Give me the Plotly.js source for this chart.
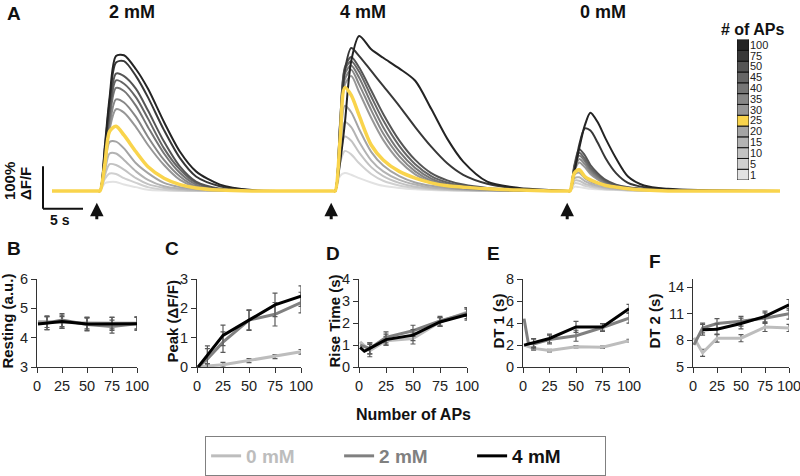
<!DOCTYPE html>
<html>
<head>
<meta charset="utf-8">
<script src="https://cdn.plot.ly/plotly-3.0.1.min.js"></script>
<style>
  html, body { margin: 0; padding: 0; background: #fff; }
  #chart { width: 800px; height: 476px; }
</style>
</head>
<body>
<div id="chart"></div>
<script>
// ---------- panel A: example fluorescence traces (dF/F vs time, s) ----------
const apCounts = [1, 5, 10, 15, 20, 25, 30, 35, 40, 45, 50, 75, 100];
const apColors = ['#e2e2e2', '#d0d0d0', '#c2c2c2', '#b3b3b3', '#a4a4a4', '#f9d44c', '#979797',
                  '#878787', '#767676', '#666666', '#555555', '#383838', '#242424'];

// 2 mM bath, stimulus ~6 s
const t2mM = [0, 5.7, 6, 6.6, 7.2, 8, 9, 10.5, 12, 14, 16, 18, 21, 25, 29];
const f2mM = [
  [0, 0, 0, 0.18, 0.21, 0.21, 0.15, 0.09, 0.03, 0.01, 0, 0, 0, 0, 0],
  [0, 0, 0, 0.28, 0.41, 0.40, 0.30, 0.19, 0.09, 0.03, 0.01, 0, 0, 0, 0],
  [0, 0, 0, 0.36, 0.63, 0.61, 0.50, 0.30, 0.16, 0.07, 0.02, 0.01, 0, 0, 0],
  [0, 0, 0, 0.45, 0.88, 0.88, 0.73, 0.46, 0.26, 0.11, 0.05, 0.02, 0, 0, 0],
  [0, 0, 0, 0.55, 1.15, 1.16, 1.00, 0.65, 0.42, 0.19, 0.09, 0.04, 0, 0, 0],
  [0, 0, 0, 0.62, 1.40, 1.52, 1.31, 0.92, 0.57, 0.30, 0.15, 0.07, 0.02, 0, 0],
  [0, 0, 0, 0.65, 1.45, 1.92, 1.84, 1.50, 1.08, 0.61, 0.26, 0.09, 0.02, 0, 0],
  [0, 0, 0, 0.70, 1.55, 2.15, 2.08, 1.74, 1.27, 0.73, 0.34, 0.11, 0.02, 0, 0],
  [0, 0, 0, 0.75, 1.70, 2.42, 2.35, 2.00, 1.50, 0.88, 0.42, 0.15, 0.03, 0, 0],
  [0, 0, 0, 0.80, 1.80, 2.60, 2.52, 2.20, 1.70, 1.00, 0.50, 0.19, 0.04, 0, 0],
  [0, 0, 0, 0.85, 1.90, 2.76, 2.70, 2.40, 1.89, 1.16, 0.57, 0.22, 0.05, 0, 0],
  [0, 0, 0, 0.98, 2.10, 3.02, 3.05, 2.70, 2.20, 1.43, 0.77, 0.34, 0.11, 0.01, 0],
  [0, 0, 0, 1.05, 2.20, 3.17, 3.19, 2.86, 2.40, 1.62, 0.92, 0.46, 0.15, 0.02, 0]
];

// 4 mM bath, stimulus ~35.4 s
const t4mM = [35.1, 35.4, 36.0, 36.6, 37.4, 38.4, 39.9, 41.4, 43.4, 45.4, 47.4, 49.4, 51.4, 54.4, 58.4, 62.4];
const f4mM = [
  [0, 0, 0.35, 0.42, 0.38, 0.30, 0.20, 0.12, 0.07, 0.04, 0.02, 0.01, 0, 0, 0, 0],
  [0, 0, 0.65, 0.94, 0.86, 0.65, 0.40, 0.24, 0.13, 0.07, 0.04, 0.02, 0.01, 0, 0, 0],
  [0, 0, 0.80, 1.28, 1.18, 0.90, 0.56, 0.35, 0.19, 0.10, 0.06, 0.03, 0.02, 0, 0, 0],
  [0, 0, 0.90, 1.62, 1.50, 1.15, 0.72, 0.46, 0.26, 0.15, 0.08, 0.05, 0.03, 0.01, 0, 0],
  [0, 0, 1.00, 2.00, 1.85, 1.45, 0.92, 0.60, 0.35, 0.20, 0.12, 0.07, 0.04, 0.02, 0, 0],
  [0, 0, 1.17, 2.43, 2.25, 1.77, 1.08, 0.73, 0.46, 0.30, 0.19, 0.12, 0.09, 0.05, 0.02, 0],
  [0, 0, 1.40, 2.50, 2.70, 2.32, 1.72, 1.20, 0.71, 0.39, 0.20, 0.10, 0.05, 0.02, 0, 0],
  [0, 0, 1.45, 2.62, 2.85, 2.50, 1.90, 1.35, 0.82, 0.46, 0.24, 0.13, 0.07, 0.03, 0, 0],
  [0, 0, 1.50, 2.75, 2.95, 2.66, 2.06, 1.50, 0.93, 0.54, 0.29, 0.16, 0.09, 0.04, 0.01, 0],
  [0, 0, 1.55, 2.85, 3.05, 2.80, 2.22, 1.66, 1.06, 0.63, 0.35, 0.20, 0.12, 0.05, 0.01, 0],
  [0, 0, 1.58, 2.90, 3.15, 2.90, 2.36, 1.81, 1.19, 0.73, 0.42, 0.25, 0.15, 0.07, 0.02, 0],
  [0, 0, 1.35, 2.82, 3.36, 3.17, 2.82, 2.47, 2.00, 1.50, 1.04, 0.65, 0.38, 0.17, 0.05, 0],
  [0, 0, 0.65, 1.58, 3.05, 3.64, 3.33, 3.13, 2.88, 2.59, 1.93, 1.23, 0.69, 0.22, 0.07, 0.02]
];

// 0 mM bath, stimulus ~64.75 s
const t0mM = [64.45, 64.75, 65.3, 65.9, 66.6, 67.3, 68.2, 69.2, 70.5, 72, 74, 77, 81, 91];
const f0mM = [
  [0, 0, 0.10, 0.09, 0.07, 0.05, 0.04, 0.03, 0.02, 0.01, 0, 0, 0, 0],
  [0, 0, 0.18, 0.17, 0.12, 0.09, 0.06, 0.04, 0.03, 0.01, 0, 0, 0, 0],
  [0, 0, 0.24, 0.24, 0.17, 0.13, 0.09, 0.06, 0.04, 0.02, 0.01, 0, 0, 0],
  [0, 0, 0.30, 0.32, 0.23, 0.17, 0.12, 0.08, 0.05, 0.03, 0.01, 0, 0, 0],
  [0, 0, 0.38, 0.43, 0.30, 0.22, 0.16, 0.11, 0.07, 0.04, 0.02, 0, 0, 0],
  [0, 0, 0.42, 0.50, 0.34, 0.26, 0.19, 0.13, 0.09, 0.05, 0.02, 0, 0, 0],
  [0, 0, 0.47, 0.67, 0.56, 0.40, 0.27, 0.16, 0.09, 0.05, 0.03, 0.01, 0, 0],
  [0, 0, 0.50, 0.75, 0.63, 0.45, 0.30, 0.18, 0.10, 0.06, 0.03, 0.01, 0, 0],
  [0, 0, 0.54, 0.83, 0.70, 0.50, 0.34, 0.21, 0.12, 0.07, 0.04, 0.01, 0, 0],
  [0, 0, 0.57, 0.90, 0.76, 0.55, 0.38, 0.23, 0.13, 0.08, 0.04, 0.02, 0, 0],
  [0, 0, 0.61, 0.98, 0.84, 0.61, 0.42, 0.26, 0.15, 0.09, 0.05, 0.02, 0, 0],
  [0, 0, 0.46, 1.08, 1.47, 1.42, 1.14, 0.77, 0.42, 0.19, 0.09, 0.04, 0.01, 0],
  [0, 0, 0.46, 1.00, 1.54, 1.84, 1.62, 1.23, 0.77, 0.34, 0.13, 0.05, 0.02, 0]
];

const stimTimes = [5.6, 34.9, 64.4];

// ---------- panels B-F: summary vs number of APs ----------
const conditions = ['0 mM', '2 mM', '4 mM'];
const condColors = ['#bdbdbd', '#808080', '#000000'];
const apX = [1, 10, 25, 50, 75, 100];
const apX5 = [1, 5, 10, 25, 50, 75, 100];

const rest0 = [4.55, 4.55, 4.52, 4.50, 4.50, 4.50], rest0Err = [NaN, 0.2, 0.2, 0.2, 0.2, 0.2];
const rest2 = [4.50, 4.50, 4.60, 4.45, 4.38, 4.48], rest2Err = [NaN, 0.22, 0.22, 0.22, 0.22, 0.22];
const rest4 = [4.47, 4.50, 4.55, 4.47, 4.47, 4.48], rest4Err = [NaN, 0.22, 0.22, 0.22, 0.22, 0.22];

const peak0 = [0, 0.04, 0.08, 0.22, 0.36, 0.52], peak0Err = [NaN, 0.06, 0.08, 0.07, 0.07, 0.08];
const peak2 = [0, 0.28, 0.85, 1.60, 1.80, 2.20], peak2Err = [NaN, 0.35, 0.35, 0.35, 0.4, 0.35];
const peak4 = [0, 0.42, 1.08, 1.60, 2.12, 2.42], peak4Err = [NaN, 0.3, 0.35, 0.33, 0.4, 0.35];

const rise0 = [1.15, 0.75, 1.20, 1.30, 2.05, 2.50], rise0Err = [NaN, 0.28, 0.2, 0.25, 0.2, 0.2];
const rise2 = [1.00, 0.85, 1.35, 1.65, 2.10, 2.45], rise2Err = [NaN, 0.25, 0.25, 0.25, 0.2, 0.25];
const rise4 = [0.90, 0.72, 0.85, 1.25, 1.45, 2.05, 2.38], rise4Err = [NaN, NaN, 0.25, 0.25, 0.25, 0.2, 0.25];

const dt1_0 = [2.0, 1.7, 1.5, 1.85, 1.8, 2.4], dt1_0Err = [NaN, 0.15, 0.12, 0.1, 0.1, 0.12];
const dt1_2 = [4.4, 2.2, 2.1, 2.5, 2.85, 3.6, 4.45], dt1_2Err = [NaN, NaN, 0.45, 0.4, 0.5, 0.35, 0.45];
const dt1_4 = [2.0, 2.2, 2.6, 3.65, 3.65, 5.3], dt1_4Err = [NaN, 0.4, 0.4, 0.5, 0.3, 0.4];

const dt2_0 = [8.3, 6.6, 8.25, 8.25, 9.5, 9.4], dt2_0Err = [NaN, 0.4, 0.45, 0.4, 0.5, 0.4];
const dt2_2 = [7.5, 9.4, 9.9, 10.15, 10.5, 11.0], dt2_2Err = [NaN, 0.55, 0.55, 0.55, 0.6, 0.6];
const dt2_4X = [10, 25, 50, 75, 100];
const dt2_4 = [9.2, 9.25, 9.9, 10.7, 12.0], dt2_4Err = [0.6, 0.6, 0.6, 0.6, 0.6];

const px = v => v / 800;
const py = v => 1 - v / 476;
const FONT = 'Liberation Sans, Arial, Helvetica, sans-serif';

const traces = [];

// traces, yellow 25 AP drawn last (on top)
const order = apCounts.map((n, i) => i).filter(i => apCounts[i] !== 25);
order.push(apCounts.indexOf(25));
order.forEach(i => {
  traces.push({
    x: t2mM.concat(t4mM, t0mM),
    y: f2mM[i].concat(f4mM[i], f0mM[i]),
    type: 'scatter', mode: 'lines',
    line: { color: apColors[i], width: apCounts[i] === 25 ? 3.5 : 2, shape: 'spline', smoothing: 0.8 },
    xaxis: 'x', yaxis: 'y', hoverinfo: 'skip', showlegend: false
  });
});

// "# of APs" key
traces.push({
  type: 'bar', orientation: 'h',
  y: apCounts.map(String), x: apCounts.map(() => 1), width: 1,
  marker: { color: apColors, line: { color: '#111', width: 1 } },
  xaxis: 'x2', yaxis: 'y2', hoverinfo: 'skip', showlegend: false
});

function addSeries(x, y, err, c, ax, legend) {
  traces.push({
    x: x, y: y, type: 'scatter', mode: 'lines',
    name: '<span style="color:' + (c === 2 ? '#111' : condColors[c]) + '">' + conditions[c] + '</span>',
    line: { color: condColors[c], width: 3 },
    error_y: { type: 'data', array: err, color: '#5a5a5a', thickness: 1.2, width: 2.5 },
    xaxis: 'x' + ax, yaxis: 'y' + ax, cliponaxis: false, showlegend: legend, hoverinfo: 'skip'
  });
}

addSeries(apX, rest0, rest0Err, 0, 3, true);
addSeries(apX, rest2, rest2Err, 1, 3, true);
addSeries(apX, rest4, rest4Err, 2, 3, true);
addSeries(apX, peak0, peak0Err, 0, 4, false);
addSeries(apX, peak2, peak2Err, 1, 4, false);
addSeries(apX, peak4, peak4Err, 2, 4, false);
addSeries(apX, rise0, rise0Err, 0, 5, false);
addSeries(apX, rise2, rise2Err, 1, 5, false);
addSeries(apX5, rise4, rise4Err, 2, 5, false);
addSeries(apX, dt1_0, dt1_0Err, 0, 6, false);
addSeries(apX5, dt1_2, dt1_2Err, 1, 6, false);
addSeries(apX, dt1_4, dt1_4Err, 2, 6, false);
addSeries(apX, dt2_0, dt2_0Err, 0, 7, false);
addSeries(apX, dt2_2, dt2_2Err, 1, 7, false);
addSeries(dt2_4X, dt2_4, dt2_4Err, 2, 7, false);

const layout = {
  width: 800, height: 476,
  margin: { l: 0, r: 0, t: 0, b: 0 },
  paper_bgcolor: '#fff', plot_bgcolor: 'rgba(0,0,0,0)',
  font: { family: FONT, size: 14, color: '#111' },
  showlegend: true,
  xaxis: { domain: [px(40), px(790)], range: [-1.5, 92.25], visible: false, fixedrange: true },
  yaxis: { domain: [py(215), py(20)], range: [-0.512, 4.023], visible: false, fixedrange: true },
  xaxis2: { domain: [px(737), px(749)], range: [0, 1], visible: false, anchor: 'y2' },
  yaxis2: {
    domain: [py(182), py(40)], anchor: 'x2', side: 'right', type: 'category',
    tickmode: 'array', tickvals: apCounts.map(String), ticktext: apCounts.map(String),
    ticks: '', showline: false, showgrid: false, zeroline: false,
    tickfont: { size: 11, color: '#222' }
  },
  legend: {
    orientation: 'h', x: 0.507, xanchor: 'center', y: py(441), yanchor: 'top',
    bordercolor: '#808080', borderwidth: 1, font: { size: 19, weight: 'bold' },
    entrywidth: 88, itemwidth: 30
  },
  annotations: [],
  shapes: [
    // scale bar: 5 s, 100% dF/F
    { type: 'line', xref: 'x', yref: 'y', x0: -1.125, x1: -1.125, y0: -0.42, y1: 0.58, line: { color: '#111', width: 2 } },
    { type: 'line', xref: 'x', yref: 'y', x0: -1.125, x1: 3.875, y0: -0.42, y1: -0.42, line: { color: '#111', width: 2 } }
  ]
};

const lowerX = [[37, 137], [197, 301], [359, 467], [523, 629], [693, 789]];
const lowerRange = [[3, 6], [0, 3], [0, 4], [0, 8], [5, 14.9]];
const lowerTicks = [[3, 4, 5, 6], [0, 1, 2, 3], [0, 1, 2, 3, 4], [0, 2, 4, 6, 8], [5, 8, 11, 14]];
const lowerTitles = ['Resting (a.u.)', 'Peak (ΔF/F)', 'Rise Time (s)', 'DT 1 (s)', 'DT 2 (s)'];
const titleX = [8, 173, 335, 499, 655];
const letters = ['B', 'C', 'D', 'E', 'F'];
const letterPos = [[14, 251], [172, 251], [333, 256], [493, 256], [655, 264]];

const axStyle = {
  showline: true, linecolor: '#333', linewidth: 1, ticks: 'outside', ticklen: 5,
  tickcolor: '#333', tickwidth: 1, showgrid: false, zeroline: false, fixedrange: true,
  tickfont: { size: 14.5, color: '#222' }, ticklabeloverflow: 'allow'
};

lowerX.forEach((d, k) => {
  const n = k + 3;
  layout['xaxis' + n] = Object.assign({}, axStyle, {
    domain: [px(d[0]), px(d[1])], range: [0, 100], anchor: 'y' + n,
    tickmode: 'array', tickvals: [0, 25, 50, 75, 100]
  });
  layout['yaxis' + n] = Object.assign({}, axStyle, {
    domain: [py(371), py(282)], range: lowerRange[k], anchor: 'x' + n,
    tickmode: 'array', tickvals: lowerTicks[k]
  });
  layout.annotations.push({
    xref: 'paper', yref: 'paper', x: px(titleX[k]), y: py(325), text: '<b>' + lowerTitles[k] + '</b>',
    textangle: -90, showarrow: false, xanchor: 'center', yanchor: 'middle', font: { size: 15, color: '#111' }
  });
  layout.annotations.push({
    xref: 'paper', yref: 'paper', x: px(letterPos[k][0]), y: py(letterPos[k][1]), text: '<b>' + letters[k] + '</b>',
    showarrow: false, xanchor: 'center', yanchor: 'middle', font: { size: 19, color: '#111' }
  });
});

function label(x, y, text, size, extra) {
  layout.annotations.push(Object.assign({
    xref: 'paper', yref: 'paper', x: px(x), y: py(y), text: text, showarrow: false,
    xanchor: 'center', yanchor: 'middle', font: { size: size, color: '#111' }
  }, extra || {}));
}

label(14, 14, '<b>A</b>', 19);
label(132, 12, '<b>2 mM</b>', 18);
label(363, 12, '<b>4 mM</b>', 18);
label(603, 12, '<b>0 mM</b>', 18);
label(753, 30, '<b># of APs</b>', 16);
label(9, 183, '<b>100%</b>', 15, { textangle: -90 });
label(25, 186, '<b>ΔF/F</b>', 15, { textangle: -90 });
label(60, 222, '<b>5 s</b>', 14);
label(414, 419, '<b>Number of APs</b>', 16);

// stimulus arrows
stimTimes.forEach(s => {
  layout.annotations.push({
    xref: 'x', yref: 'y', x: s, y: -0.28, ax: 0, ay: 18, text: '',
    showarrow: true, arrowhead: 2, arrowsize: 0.9, arrowwidth: 3, arrowcolor: '#111', standoff: 0
  });
});

Plotly.newPlot('chart', traces, layout, { staticPlot: true, displayModeBar: false });
</script>
</body>
</html>
